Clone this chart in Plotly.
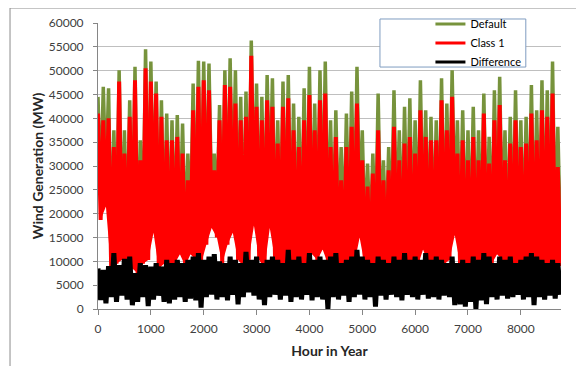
import plotly.graph_objects as go

# Hour axis: each 100-hour block holds one peak (at block start) and one trough (at +50 h)
hours = list(range(0, 8760, 50))

# ---- values (MW) ----
default_peaks = [
    44500, 46600, 46300, 37500, 50100, 37500, 43800, 50800, 35400, 54500,
    51900, 47700, 43800, 41000, 39600, 40700, 38900, 32600, 47300, 52100,
    51900, 51500, 32600, 42800, 50100, 52600, 50100, 44500, 45600, 56300,
    47300, 44500, 49100, 48400, 39600, 47700, 49100, 43100, 40300, 46300,
    50800, 43100, 50100, 51900, 39600, 41700, 34000, 41000, 45600, 50800,
    37500, 30500, 32600, 45200, 31200, 34000, 45900, 37500, 42400, 44200,
    39600, 48000, 41700, 40300, 39600, 48400, 43100, 50100, 39600, 41700,
    37500, 42400, 37500, 45200, 36100, 45900, 48700, 37500, 40300, 45900,
    39600, 40300, 47000, 41700, 48000, 45900, 51900, 38200,
]
default_troughs = [
    24500, 27000, 14000, 16000, 17000, 16000, 15000, 13000, 16000, 17000,
    22000, 15000, 16000, 15000, 16000, 17500, 15500, 17500, 17000, 16000,
    19500, 23000, 21000, 16000, 19500, 22000, 17000, 15500, 17000, 23500,
    17000, 15000, 23000, 17000, 16000, 16000, 15500, 15000, 16000, 15000,
    17500, 17000, 18500, 16000, 16000, 16000, 15500, 17000, 16000, 21000,
    15500, 15000, 14500, 16000, 15000, 16000, 17000, 16000, 16000, 16000,
    15500, 18500, 16000, 15500, 16000, 16000, 17000, 21500, 16000, 15500,
    15000, 15000, 16000, 15500, 16000, 17500, 17000, 15000, 16000, 15500,
    15000, 16000, 15000, 16000, 15000, 15500, 16000, 14500,
]

class1_peaks = [
    41000, 39600, 40000, 34000, 47700, 32600, 40300, 48000, 31200, 50500,
    47700, 45200, 40300, 35400, 35400, 36100, 32600, 27000, 41700, 46600,
    48000, 45900, 29100, 39600, 47000, 46600, 43100, 39600, 40300, 53100,
    42400, 39600, 43800, 42400, 34700, 42400, 44200, 37500, 34000, 39600,
    44900, 37500, 43800, 45200, 34000, 36100, 27000, 34000, 38200, 43100,
    31200, 25700, 28400, 37500, 27000, 29100, 38200, 31200, 34700, 36100,
    32600, 41700, 36100, 35400, 35400, 43800, 37500, 44500, 32600, 35400,
    31200, 36100, 31200, 41000, 30500, 39600, 42800, 31200, 34700, 39600,
    34000, 34700, 41000, 35400, 41700, 40300, 45200, 29800,
]
class1_troughs = [
    18700, 21500, 8000, 9500, 10300, 9500, 8500, 7500, 9500, 10300,
    16000, 8500, 9500, 8500, 9500, 11500, 9000, 11500, 10300, 9500,
    13500, 17000, 15000, 9500, 13500, 16000, 10300, 9000, 10300, 17500,
    10300, 8500, 17000, 10300, 9500, 9500, 9000, 8500, 9500, 8500,
    11500, 10300, 12500, 9500, 9500, 9500, 9000, 10300, 9500, 15000,
    9000, 8500, 8000, 9500, 8500, 9500, 10300, 9500, 9500, 9500,
    9000, 12500, 9500, 9000, 9500, 9500, 10300, 15500, 9500, 9000,
    8500, 8500, 9500, 9000, 9500, 11500, 10300, 8500, 9500, 9000,
    8500, 9500, 8500, 9500, 8500, 9000, 9500, 9000,
]

difference_peaks = [
    8500, 8200, 9000, 11700, 9200, 10500, 11000, 7500, 9600, 9200,
    8900, 9600, 8900, 10300, 9600, 10300, 9600, 10300, 11000, 11700,
    10300, 11000, 11500, 10000, 9600, 11000, 10300, 9600, 12000, 10300,
    11000, 9600, 10300, 11000, 10300, 9600, 12400, 10300, 11000, 9600,
    11700, 10300, 11000, 10300, 11000, 11700, 9600, 10300, 11000, 12400,
    11000, 10300, 9600, 11000, 10300, 9600, 11000, 10300, 11700, 10300,
    11000, 10300, 11700, 10300, 11000, 10300, 9600, 11000, 9600, 10300,
    9600, 11000, 10300, 11700, 11000, 9600, 11000, 10300, 11000, 9600,
    10300, 11000, 11700, 11000, 10300, 9600, 10300, 9600,
]
difference_troughs = [
    1900, 1200, 2500, 1500, 2800, 2000, 800, 1500, 2500, 600,
    2000, 2800, 1500, 1200, 2000, 2500, 1500, 2200, 1800, 300,
    2500, 3000, 2000, 2500, 1800, 3000, 1000, 2500, 3500, 2800,
    2000, 800, 2500, 3000, 2000, 2800, 1500, 2500, 2000, 3000,
    1800, 2500, 2000, 0, 2500, 2000, 2800, 1500, 2500, 3000,
    2000, 2500, 500, 2800, 2000, 3000, 2500, 1800, 3000, 2500,
    2000, 3000, 2200, 2500, 2000, 2800, 2500, 800, 1000, 500,
    1500, 0, 1800, 1000, 2500, 2000, 2800, 2200, 2500, 3000,
    2000, 2500, 800, 2500, 2000, 2800, 2200, 3000,
]

series_names = ["Default", "Class 1", "Difference"]
series_colors = ["#77933C", "#FF0000", "#000000"]
x_tick_values = [0, 1000, 2000, 3000, 4000, 5000, 6000, 7000, 8000]


def zigzag(peaks, troughs):
    out = []
    for p, t in zip(peaks, troughs):
        out.extend([p, t])
    return out


series_peaks = [default_peaks, class1_peaks, difference_peaks]
series_troughs = [default_troughs, class1_troughs, difference_troughs]
data_widths = [3.5, 4, 5]
solid_body = [True, True, False]
trough_hours = hours[1::2]

FONT = "Lato, Carlito, Calibri, 'Liberation Sans', sans-serif"

fig = go.Figure()
for name, color, pk, tr, w, solid in zip(series_names, series_colors, series_peaks,
                                          series_troughs, data_widths, solid_body):
    if solid:
        # lower boundary through the troughs (invisible), so the body of the
        # series is filled solid below its zigzag line
        fig.add_trace(go.Scatter(x=trough_hours, y=tr, mode="lines",
                                 line=dict(width=0, color=color), showlegend=False,
                                 hoverinfo="skip"))
    fig.add_trace(go.Scatter(x=hours, y=zigzag(pk, tr), mode="lines", name=name,
                             line=dict(color=color, width=w), showlegend=False,
                             fill="tonexty" if solid else "none", fillcolor=color))
# legend entries (thin sample lines like the original legend)
for name, color in zip(series_names, series_colors):
    fig.add_trace(go.Scatter(x=[None], y=[None], mode="lines", name=name,
                             line=dict(color=color, width=3), showlegend=True))

# The page body adds an 8px offset, so the margins are reduced by 8px on top/left.
fig.update_layout(
    width=584, height=366,
    margin=dict(l=90, r=31, t=15, b=65, autoexpand=False),
    paper_bgcolor="white", plot_bgcolor="white",
    font=dict(family=FONT, size=12, color="#404040"),
    showlegend=True,
    legend=dict(x=0.718, y=1.047, xanchor="left", yanchor="top",
                traceorder="normal",
                bgcolor="rgba(0,0,0,0)", borderwidth=0,
                font=dict(family=FONT, size=11, color="#000000"),
                itemwidth=30, tracegroupgap=0),
    xaxis=dict(range=[0, 8760], tickvals=x_tick_values, showgrid=False,
               showline=True, linecolor="#868686", linewidth=1,
               ticks="outside", ticklen=5, tickcolor="#868686",
               zeroline=False, automargin=False, ticklabelstandoff=4,
               tickfont=dict(family=FONT, size=12, color="#404040"),
               title=dict(text="<b>Hour in Year</b>", standoff=10,
                          font=dict(family=FONT, size=14, color="#262626"))),
    yaxis=dict(range=[0, 60000], dtick=5000, showgrid=True, gridcolor="#bfbfbf",
               gridwidth=1, showline=True, linecolor="#868686", linewidth=1,
               ticks="outside", ticklen=4, tickcolor="#868686", zeroline=False,
               tickformat="d", automargin=False, ticklabelstandoff=7,
               tickfont=dict(family=FONT, size=12, color="#404040"),
               title=dict(text="<b>Wind Generation (MW)</b>", standoff=1,
                          font=dict(family=FONT, size=14, color="#262626"))),
    shapes=[
        dict(type="rect", xref="paper", yref="paper",
             x0=-0.190, x1=1.2, y0=-0.4, y1=1.0524,
             line=dict(color="#8c8c8c", width=1), fillcolor="rgba(0,0,0,0)",
             layer="below"),
        dict(type="rect", xref="paper", yref="paper",
             x0=0.609, x1=0.924, y0=0.846, y1=1.014,
             line=dict(color="#7f9cc0", width=1), fillcolor="white",
             layer="above"),
    ],
)

fig.write_html("out.html")
